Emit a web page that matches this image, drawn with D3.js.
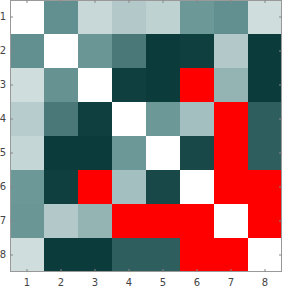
<!DOCTYPE html>
<html>
<head>
<meta charset="utf-8">
<script src="https://cdn.jsdelivr.net/npm/d3@7"></script>
<style>
  body { margin: 0; background: #fff; }
  svg { display: block; }
  .axis text { font-family: "DejaVu Sans", sans-serif; font-size: 10px; fill: #444; }
  .axis line { stroke: #888; }
  .axis path { display: none; }
</style>
</head>
<body>
<div id="chart"></div>
<script>
// tick labels
const labels = ["1", "2", "3", "4", "5", "6", "7", "8"];
// matrix values, null = missing (drawn red)
const row1 = [0, 0.54, 0.185, 0.255, 0.215, 0.49, 0.54, 0.16];
const row2 = [0.54, 0, 0.50, 0.67, 1.0, 0.98, 0.255, 1.0];
const row3 = [0.16, 0.52, 0, 0.98, 1.0, null, 0.36, 1.0];
const row4 = [0.24, 0.67, 0.98, 0, 0.49, 0.305, null, 0.81];
const row5 = [0.195, 1.0, 1.0, 0.49, 0, 0.93, null, 0.81];
const row6 = [0.49, 0.98, null, 0.305, 0.93, 0, null, null];
const row7 = [0.50, 0.255, 0.36, null, null, null, 0, null];
const row8 = [0.16, 1.0, 1.0, 0.81, 0.81, null, null, 0];
const rows = [row1, row2, row3, row4, row5, row6, row7, row8];

const margin = {left: 10, top: 0, right: 2, bottom: 16};
const width = 272, height = 272;

const cells = [];
rows.forEach(function(r, i) {
    r.forEach(function(v, j) {
        cells.push({row: labels[i], col: labels[j], value: v});
    });
});

const svg = d3.select("#chart")
    .append("svg")
        .attr("width", width + margin.left + margin.right)
        .attr("height", height + margin.top + margin.bottom)
    .append("g")
        .attr("transform", "translate(" + margin.left + "," + margin.top + ")");

const x = d3.scaleBand().domain(labels).range([0, width]);
const y = d3.scaleBand().domain(labels).range([0, height]);
const color = d3.scaleLinear()
    .domain([0, 0.5, 1])
    .range(["#ffffff", "#6a9696", "#0b3b3b"]);

svg.selectAll("rect.cell")
    .data(cells)
    .enter()
    .append("rect")
        .attr("class", "cell")
        .attr("x", function (d) { return x(d.col); })
        .attr("y", function (d) { return y(d.row); })
        .attr("width", x.bandwidth())
        .attr("height", y.bandwidth())
        .attr("fill", function (d) { return d.value === null ? "#ff0000" : color(d.value); });

// box
svg.append("rect")
    .attr("x", 0.5).attr("y", 0.5)
    .attr("width", width - 1).attr("height", height - 1)
    .attr("fill", "none")
    .attr("stroke", "#999");

// axes with inward ticks
svg.append("g").attr("class", "axis")
    .attr("transform", "translate(0," + height + ")")
    .call(d3.axisBottom(x).tickSize(-3).tickSizeOuter(0).tickPadding(7));
svg.append("g").attr("class", "axis")
    .call(d3.axisLeft(y).tickSize(-3).tickSizeOuter(0).tickPadding(4));
svg.append("g").attr("class", "axis")
    .call(d3.axisTop(x).tickSize(-3).tickSizeOuter(0).tickFormat(""));
svg.append("g").attr("class", "axis")
    .attr("transform", "translate(" + width + ",0)")
    .call(d3.axisRight(y).tickSize(-3).tickSizeOuter(0).tickFormat(""));
</script>
</body>
</html>
